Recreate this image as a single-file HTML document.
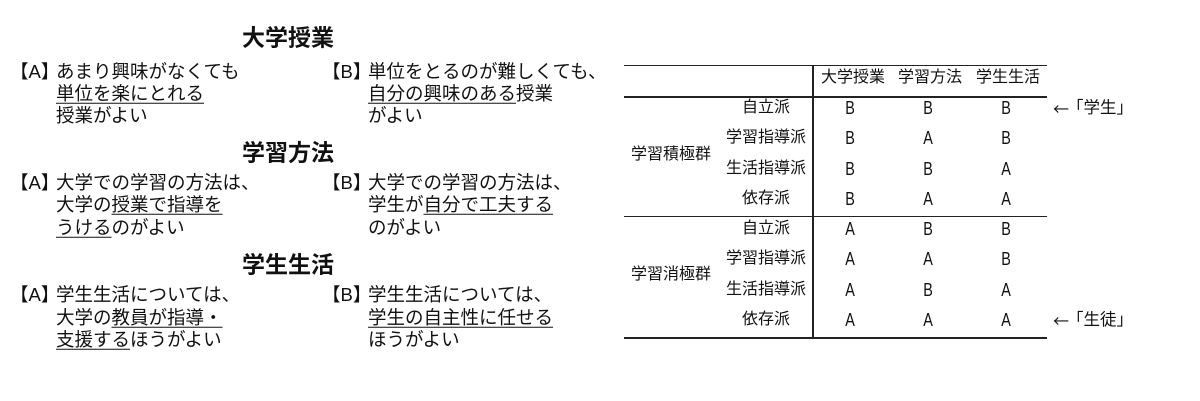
<!DOCTYPE html>
<html><head><meta charset="utf-8"><style>
body{margin:0;width:1200px;height:401px;background:#fff;position:relative;overflow:hidden;font-family:"Liberation Sans","Noto Sans CJK JP",sans-serif;color:#111}
.t{position:absolute;white-space:nowrap;line-height:1}
.h{font-weight:bold;font-size:23px;transform:translate(-50%,-50%)}
.p{font-size:18.5px;transform:translateY(-50%)}
u{text-decoration:underline;text-underline-offset:3px;text-decoration-thickness:1px}
.c{font-size:16px;transform:translate(-50%,-50%)}
.ab{font-size:18px;transform:translate(-50%,-50%) scaleX(0.8)}
.l{position:absolute;background:#222}
.ar{font-family:"Noto Sans CJK JP",sans-serif}
</style></head><body>
<div class="t h" style="left:288px;top:38px">大学授業</div>
<div class="t p" style="left:10px;top:72px">【A】</div>
<div class="t p" style="left:56px;top:72px">あまり興味がなくても</div>
<div class="t p" style="left:56px;top:94px"><u>単位を楽にとれる</u></div>
<div class="t p" style="left:56px;top:116px">授業がよい</div>
<div class="t p" style="left:322px;top:72px">【B】</div>
<div class="t p" style="left:368px;top:72px">単位をとるのが難しくても、</div>
<div class="t p" style="left:368px;top:94px"><u>自分の興味のある</u>授業</div>
<div class="t p" style="left:368px;top:116px">がよい</div>

<div class="t h" style="left:288px;top:153px">学習方法</div>
<div class="t p" style="left:10px;top:183px">【A】</div>
<div class="t p" style="left:56px;top:183px">大学での学習の方法は、</div>
<div class="t p" style="left:56px;top:205px">大学の<u>授業で指導を</u></div>
<div class="t p" style="left:56px;top:228px"><u>うける</u>のがよい</div>
<div class="t p" style="left:322px;top:183px">【B】</div>
<div class="t p" style="left:368px;top:183px">大学での学習の方法は、</div>
<div class="t p" style="left:368px;top:205px">学生が<u>自分で工夫する</u></div>
<div class="t p" style="left:368px;top:228px">のがよい</div>

<div class="t h" style="left:288px;top:265px">学生生活</div>
<div class="t p" style="left:10px;top:295px">【A】</div>
<div class="t p" style="left:56px;top:295px">学生生活については、</div>
<div class="t p" style="left:56px;top:318px">大学の<u>教員が指導・</u></div>
<div class="t p" style="left:56px;top:340px"><u>支援する</u>ほうがよい</div>
<div class="t p" style="left:322px;top:295px">【B】</div>
<div class="t p" style="left:368px;top:295px">学生生活については、</div>
<div class="t p" style="left:368px;top:318px"><u>学生の自主性に任せる</u></div>
<div class="t p" style="left:368px;top:340px">ほうがよい</div>

<div class="l" style="left:624px;top:65px;width:423px;height:1px"></div>
<div class="l" style="left:624px;top:96px;width:423px;height:2px"></div>
<div class="l" style="left:624px;top:216px;width:423px;height:1px"></div>
<div class="l" style="left:624px;top:337px;width:423px;height:2px"></div>
<div class="l" style="left:812px;top:65px;width:1.5px;height:273px"></div>

<div class="t c" style="left:853px;top:78px">大学授業</div>
<div class="t c" style="left:930px;top:78px">学習方法</div>
<div class="t c" style="left:1008px;top:78px">学生生活</div>
<div class="t c" style="left:671px;top:155px">学習積極群</div>
<div class="t c" style="left:671px;top:275px">学習消極群</div>

<div class="t c" style="left:766px;top:108px">自立派</div>
<div class="t c" style="left:766px;top:138px">学習指導派</div>
<div class="t c" style="left:766px;top:169px">生活指導派</div>
<div class="t c" style="left:766px;top:199px">依存派</div>
<div class="t c" style="left:766px;top:229px">自立派</div>
<div class="t c" style="left:766px;top:259px">学習指導派</div>
<div class="t c" style="left:766px;top:290px">生活指導派</div>
<div class="t c" style="left:766px;top:320px">依存派</div>

<div class="t ab" style="left:850px;top:108px">B</div><div class="t ab" style="left:928px;top:108px">B</div><div class="t ab" style="left:1006px;top:108px">B</div>
<div class="t ab" style="left:850px;top:138px">B</div><div class="t ab" style="left:928px;top:138px">A</div><div class="t ab" style="left:1006px;top:138px">B</div>
<div class="t ab" style="left:850px;top:169px">B</div><div class="t ab" style="left:928px;top:169px">B</div><div class="t ab" style="left:1006px;top:169px">A</div>
<div class="t ab" style="left:850px;top:199px">B</div><div class="t ab" style="left:928px;top:199px">A</div><div class="t ab" style="left:1006px;top:199px">A</div>
<div class="t ab" style="left:850px;top:229px">A</div><div class="t ab" style="left:928px;top:229px">B</div><div class="t ab" style="left:1006px;top:229px">B</div>
<div class="t ab" style="left:850px;top:259px">A</div><div class="t ab" style="left:928px;top:259px">A</div><div class="t ab" style="left:1006px;top:259px">B</div>
<div class="t ab" style="left:850px;top:290px">A</div><div class="t ab" style="left:928px;top:290px">B</div><div class="t ab" style="left:1006px;top:290px">A</div>
<div class="t ab" style="left:850px;top:320px">A</div><div class="t ab" style="left:928px;top:320px">A</div><div class="t ab" style="left:1006px;top:320px">A</div>

<div class="t c ar" style="left:1061px;top:108px;font-size:16px">←</div>
<div class="t c" style="left:1100px;top:108px;font-size:16.5px">「学生」</div>
<div class="t c ar" style="left:1061px;top:320px;font-size:16px">←</div>
<div class="t c" style="left:1100px;top:320px;font-size:16.5px">「生徒」</div>
</body></html>
